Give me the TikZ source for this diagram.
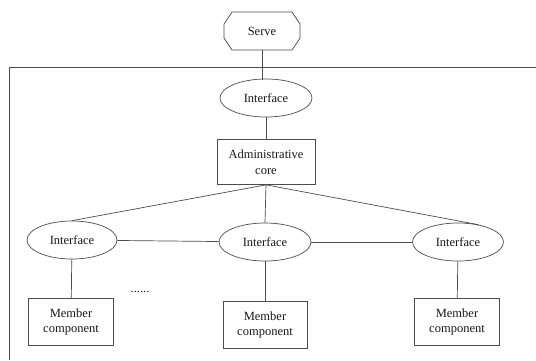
\documentclass[tikz,border=0pt]{standalone}
\usepackage{fontspec}
\setmainfont{Liberation Serif}
\usetikzlibrary{shapes.geometric}
\begin{document}
\begin{tikzpicture}[x=1pt,y=-1pt,
  every node/.style={font=\fontsize{12.5}{15.5}\selectfont, text=black!90},
  ln/.style={draw=black!70, line width=0.7pt},
  iface/.style={ln, ellipse, minimum width=92pt, minimum height=38pt, inner sep=0pt},
  box/.style={ln, rectangle, minimum width=85pt, minimum height=47pt, align=center, inner sep=0pt}]
\useasboundingbox (0,0) rectangle (536,360);
\fill[white] (0,0) rectangle (536,360);
% outer frame
\coordinate (fl) at (9,360);
\coordinate (ftl) at (9,67);
\coordinate (ftr) at (536,67);
\draw[ln] (fl) -- (ftl) -- (ftr);
% serve octagon
\node (serve) at (262,31) {Serve};
\draw[ln] (232,12) -- (292,12) -- (300,24) -- (300,38) -- (292,50) -- (232,50) -- (224,38) -- (224,24) -- cycle;
\coordinate (serveb) at (262,50);
\node[iface] (i0) at (266,98) {Interface};
\node[box, minimum width=98pt, minimum height=45pt] (core) at (266,162) {Administrative\\core};
\node[iface, minimum width=90pt] (i1) at (72,240) {Interface};
\node[iface] (i2) at (265,242) {Interface};
\node[iface, minimum width=91pt] (i3) at (458,242) {Interface};
\node[box] (m1) at (71,322) {Member\\component};
\node[box, minimum width=84pt] (m2) at (265,325) {Member\\component};
\node[box] (m3) at (457,322) {Member\\component};
\node (dots) at (140,292) {......};
\coordinate (i0t) at (262,80);
\draw[ln] (serveb) -- (i0t);
\draw[ln] (i0) -- (core);
\draw[ln] (core.south) -- (i1.north);
\draw[ln] (core.south) -- (i2.north);
\draw[ln] (core.south) -- (i3.40);
\draw[ln] (i1) -- (i2);
\draw[ln] (i2) -- (i3);
\draw[ln] (i1) -- (m1);
\draw[ln] (i2) -- (m2);
\draw[ln] (i3) -- (m3);
\end{tikzpicture}
\end{document}
